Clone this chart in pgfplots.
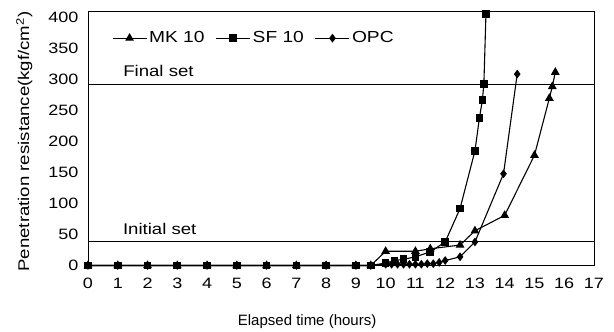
\documentclass[border=0pt]{standalone}
\usepackage{fontspec}
\setmainfont{Liberation Sans}
\newfontfamily\wide[FakeStretch=1.2]{Liberation Sans}
\usepackage{pgfplots}
\pgfplotsset{compat=1.18}
\begin{document}
\begin{tikzpicture}
\begin{axis}[
  scale only axis,
  width=506pt, height=254pt,
  xmin=0, xmax=17, ymin=0, ymax=410,
  xtick={0,1,...,17}, ytick={0,50,...,400},
  major tick length=0pt,
  clip=false,
  axis line style={line width=0.9pt},
  /pgf/number format/assume math mode=true,
  ticklabel style={font=\wide\fontsize{15}{18}\selectfont},
  xticklabel style={yshift=-9pt},
  yticklabel style={xshift=-6pt},
  xlabel={Elapsed time (hours)},
  xlabel style={font=\fontsize{15}{18}\selectfont, at={(axis description cs:0.433,0)}, anchor=center, yshift=-56pt},
  ylabel={Penetration resistance(kgf/cm\textsuperscript{2})},
  ylabel style={font=\wide\fontsize{15.5}{18}\selectfont, at={(axis description cs:-0.126,0.488)}, anchor=center},
  legend style={at={(axis cs:0.8,367)}, anchor=west, draw=none, fill=none, inner sep=0pt,
    font=\wide\fontsize{16}{18}\selectfont,
    /tikz/every even column/.append style={column sep=9pt}},
  legend columns=3,
  legend image code/.code={\draw[#1, mark repeat=2, mark phase=2] plot coordinates {(0pt,0pt) (17pt,0pt) (34pt,0pt)};},
  every axis plot/.append style={black, line width=1.1pt, mark options={solid, fill=black}},
]
\addplot[mark=triangle*, mark size=4pt] coordinates {
(0,0)(1,0)(2,0)(3,0)(4,0)(5,0)(6,0)(7,0)(8,0)(9,0)(9.5,0)
(10,23)(11,23)(11.5,27)(12.5,33)(13,56)(14,81)(15,178)(15.5,270)(15.6,289)(15.7,312)};
\addlegendentry{MK 10}
\addplot[mark=square*, mark size=3.3pt] coordinates {
(0,0)(1,0)(2,0)(3,0)(4,0)(5,0)(6,0)(7,0)(8,0)(9,0)(9.5,0)
(10,4)(10.3,8)(10.6,10)(11,14)(11.5,22)(12,38)(12.5,92)(13,185)(13.15,238)(13.25,267)(13.3,293)(13.37,406)};
\addlegendentry{SF 10}
\addplot[mark=diamond*, mark size=3.5pt] coordinates {
(0,0)(1,0)(2,0)(3,0)(4,0)(5,0)(6,0)(7,0)(8,0)(9,0)(9.5,0)
(10,2)(10.2,2)(10.4,2)(10.6,2)(10.8,2)(11,2)(11.2,2)(11.4,3)(11.6,3)(11.8,5)(12,8)(12.5,14)(13,38)(13.96,148)(14.42,309)};
\addlegendentry{OPC}
\addplot[black, line width=1pt, no marks, forget plot] coordinates {(0,38)(17,38)};
\addplot[black, line width=1pt, no marks, forget plot] coordinates {(0,292)(17,292)};
\node[anchor=west, inner sep=0pt, font=\wide\fontsize{15.5}{18}\selectfont] at (axis cs:1.18,314) {Final set};
\node[anchor=west, inner sep=0pt, font=\wide\fontsize{15.5}{18}\selectfont] at (axis cs:1.17,59) {Initial set};
\coordinate (SW) at (rel axis cs:0,0);
\end{axis}
\pgfresetboundingbox
\path (SW) ++(-88pt,-66.5pt) rectangle ++(614pt,332pt);
\end{tikzpicture}
\end{document}
